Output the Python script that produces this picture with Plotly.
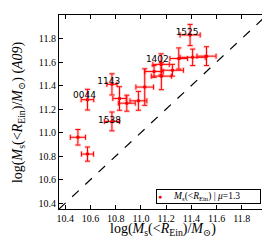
import plotly.graph_objects as go

# data
x_vals = [10.50, 10.576, 10.576, 10.77, 10.77, 10.83, 10.888, 10.98, 11.03, 11.104, 11.162, 11.16, 11.25, 11.30, 11.41, 11.52, 11.39]
y_vals = [10.96, 10.817, 11.28, 11.41, 11.095, 11.29, 11.25, 11.27, 11.387, 11.52, 11.48, 11.58, 11.53, 11.63, 11.64, 11.65, 11.83]
x_err = [0.06, 0.048, 0.05, 0.04, 0.06, 0.053, 0.067, 0.067, 0.07, 0.073, 0.08, 0.065, 0.087, 0.07, 0.10, 0.076, 0.08]
y_err = [0.066, 0.06, 0.088, 0.09, 0.08, 0.10, 0.068, 0.08, 0.155, 0.05, 0.115, 0.09, 0.05, 0.09, 0.07, 0.08, 0.09]

label_names = ["0044", "1143", "1538", "1402", "1525"]
label_x = [10.552, 10.744, 10.75, 11.13, 11.366]
label_y = [11.31, 11.43, 11.10, 11.62, 11.85]

tick_vals = [10.4, 10.6, 10.8, 11.0, 11.2, 11.4, 11.6, 11.8]
tick_text = ["10.4", "10.6", "10.8", "11.0", "11.2", "11.4", "11.6", "11.8"]
axis_range = [10.35, 12.0]

legend_label = "<i>M</i><sub>s</sub>(&lt;<i>R</i><sub>Ein</sub>) | <i>μ</i>=1.3"

SERIF = "Liberation Serif, DejaVu Serif, serif"
title_txt = "log(<i>M</i><sub>s</sub>(&lt;<i>R</i><sub>Ein</sub>)/<i>M</i><sub>⊙</sub>)"

fig = go.Figure()

# one-to-one dashed line
fig.add_trace(go.Scatter(x=axis_range, y=axis_range, mode="lines",
                         line=dict(color="black", width=1.2, dash="dash"),
                         showlegend=False, hoverinfo="skip"))

# soft halo of error bars
fig.add_trace(go.Scatter(x=x_vals, y=y_vals, mode="markers",
                         marker=dict(size=1, color="rgba(255,0,0,0)"),
                         error_x=dict(type="data", array=x_err, color="rgba(255,80,80,0.25)", thickness=3, width=3),
                         error_y=dict(type="data", array=y_err, color="rgba(255,80,80,0.25)", thickness=3, width=3),
                         showlegend=False, hoverinfo="skip"))

# main points
fig.add_trace(go.Scatter(x=x_vals, y=y_vals, mode="markers",
                         marker=dict(size=3.5, color="red"),
                         error_x=dict(type="data", array=x_err, color="red", thickness=1, width=2.5),
                         error_y=dict(type="data", array=y_err, color="red", thickness=1, width=2.5),
                         name=legend_label, showlegend=False))

# point labels
fig.add_trace(go.Scatter(x=label_x, y=label_y, mode="text", text=label_names,
                         textfont=dict(family="DejaVu Sans, sans-serif", size=9, color="black"),
                         showlegend=False, hoverinfo="skip"))

axis_common = dict(range=axis_range, tickvals=tick_vals, ticktext=tick_text,
                   ticks="inside", ticklen=4, tickcolor="black", tickwidth=1,
                   showline=True, linecolor="black", linewidth=1, mirror="allticks",
                   showgrid=False, zeroline=False,
                   tickfont=dict(family=SERIF, size=10, color="black"))

fig.update_xaxes(**axis_common)
fig.update_yaxes(**axis_common)

fig.update_layout(
    width=270, height=240,
    margin=dict(l=51, r=11, t=7, b=39),
    paper_bgcolor="white", plot_bgcolor="white",
    showlegend=False,
    annotations=[
        dict(text=title_txt, xref="paper", yref="paper", x=0.5, y=-0.105,
             xanchor="center", yanchor="middle", showarrow=False,
             font=dict(family=SERIF, size=14, color="black")),
        dict(text=title_txt + " (<i>A09</i>)", xref="paper", yref="paper", x=-0.197, y=0.5,
             xanchor="center", yanchor="middle", showarrow=False, textangle=-90,
             font=dict(family=SERIF, size=14, color="black")),
        # legend box
        dict(text="<span style='color:red;font-size:7px'>●</span>     " + legend_label,
             xref="paper", yref="paper", x=0.719, y=0.062,
             xanchor="center", yanchor="middle", showarrow=False,
             width=101, height=11, align="left", borderpad=1,
             bordercolor="black", borderwidth=1, bgcolor="white",
             font=dict(family=SERIF, size=9.5, color="black")),
    ],
)

fig.write_html("out.html")
